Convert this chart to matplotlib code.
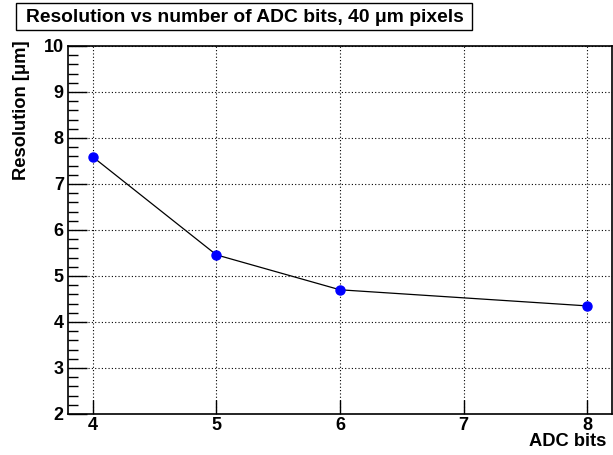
import matplotlib
matplotlib.use("Agg")
import matplotlib.pyplot as plt
from matplotlib.ticker import MultipleLocator
from matplotlib.patches import Rectangle

# data
adc_bits = [4, 5, 6, 8]
resolution = [7.59, 5.46, 4.70, 4.35]

x_ticks = [4, 5, 6, 7, 8]
y_ticks = [2, 3, 4, 5, 6, 7, 8, 9, 10]

plt.rcParams['font.family'] = ['Liberation Sans', 'DejaVu Sans']
plt.rcParams['font.weight'] = 'bold'

W, H = 613, 455
fig = plt.figure(figsize=(W / 100, H / 100), dpi=100)
ax = fig.add_axes([68 / W, 1 - 414 / H, (612 - 68) / W, (414 - 46) / H])

ax.plot(adc_bits, resolution, color='black', lw=0.9, zorder=3)
ax.plot(adc_bits, resolution, 'o', color='#0000ff', ms=6.5, zorder=4)

ax.set_xlim(3.8, 8.2)
ax.set_ylim(2, 10)
ax.set_xticks(x_ticks)
ax.set_yticks(y_ticks)
ax.yaxis.set_minor_locator(MultipleLocator(0.2))

ax.grid(True, which='major', color='black', ls=(0, (1, 2)), lw=0.8)
ax.tick_params(axis='both', which='major', direction='in', length=14, width=1,
               labelsize=13, top=False, right=False)
ax.tick_params(axis='x', which='major', length=10, pad=2)
ax.tick_params(axis='y', which='major', pad=3)
ax.tick_params(axis='y', which='minor', direction='in', length=7, width=1)
for lab in ax.get_xticklabels() + ax.get_yticklabels():
    lab.set_fontweight('bold')
for sp in ax.spines.values():
    sp.set_linewidth(1.2)

fig.text(22 / W, 1 - 40 / H, 'Resolution [\u03bcm]', rotation=90, ha='center', va='top',
         fontsize=13.2, fontweight='bold')
fig.text(606 / W, 1 - 442 / H, 'ADC bits', ha='right', va='center',
         fontsize=13.2, fontweight='bold')

fig.patches.append(Rectangle((16 / W, 1 - 30 / H), (472 - 16) / W, 27 / H,
                             transform=fig.transFigure, facecolor='white',
                             edgecolor='black', lw=1))
fig.text(245 / W, 1 - 17 / H, 'Resolution vs number of ADC bits, 40 \u03bcm pixels',
         ha='center', va='center', fontsize=13.9, fontweight='bold')

fig.savefig('out.png', dpi=100)
